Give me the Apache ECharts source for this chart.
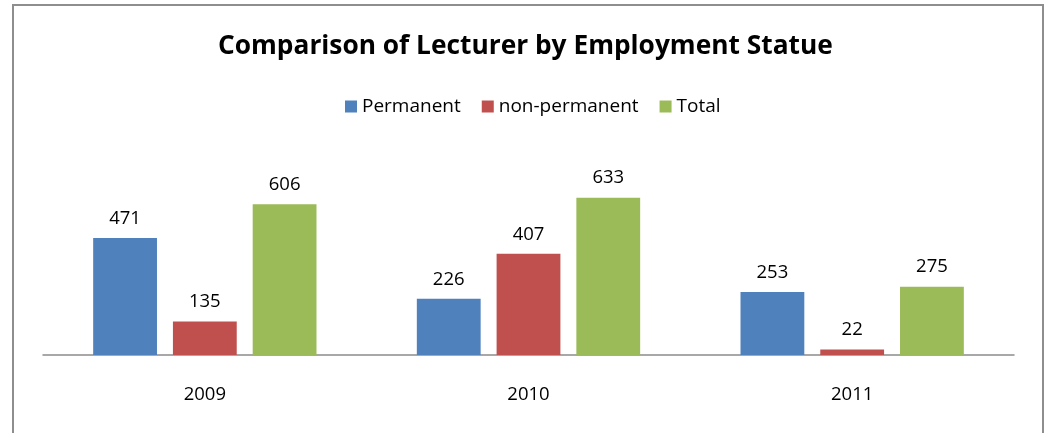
<!DOCTYPE html>
<html>
<head>
<meta charset="utf-8">
<script src="https://cdn.jsdelivr.net/npm/echarts@6/dist/echarts.min.js"></script>
<style>
html,body{margin:0;padding:0;background:#fff;overflow:hidden;}
#frame{position:absolute;left:12px;top:4px;width:1032px;height:460px;border:2px solid #8e8e8e;box-sizing:border-box;}
#chart{position:absolute;left:0;top:0;width:1047px;height:433px;}
</style>
</head>
<body>
<div id="frame"></div>
<div id="chart"></div>
<script>
const categories = ['2009', '2010', '2011'];
const permanent = [471, 226, 253];
const nonPermanent = [135, 407, 22];
const total = [606, 633, 275];
const seriesNames = ['Permanent', 'non-permanent', 'Total'];
const colors = ['#4F81BD', '#C0504D', '#9BBB59'];

const font = 'Open Sans, Liberation Sans, sans-serif';
const chart = echarts.init(document.getElementById('chart'));
const mk = (name, data, color) => ({
  name: name, type: 'bar', data: data,
  barGap: '25%', barCategoryGap: '31%',
  itemStyle: {color: color},
  label: {show: true, position: 'top', distance: 10, color: '#000', fontSize: 18.5, fontFamily: font},
  emphasis: {disabled: true}
});
chart.setOption({
  animation: false,
  title: {
    text: 'Comparison of Lecturer by Employment Statue',
    left: 213, top: 29,
    textStyle: {fontSize: 26.3, fontWeight: 'bold', color: '#000', fontFamily: font}
  },
  legend: {
    top: 92, left: 340,
    itemWidth: 12, itemHeight: 12, itemGap: 21,
    icon: 'rect',
    textStyle: {fontSize: 19, color: '#000', fontFamily: font},
    data: seriesNames
  },
  grid: {left: 43, right: 33, top: 181, bottom: 78, containLabel: false},
  xAxis: {
    type: 'category', data: categories,
    axisLine: {lineStyle: {color: '#8c8c8c', width: 1.5}},
    axisTick: {show: false},
    axisLabel: {margin: 30, fontSize: 18.5, color: '#000', fontFamily: font}
  },
  yAxis: {
    type: 'value', min: 0, max: 700, interval: 100,
    show: false, splitLine: {show: false}
  },
  series: [
    mk(seriesNames[0], permanent, colors[0]),
    mk(seriesNames[1], nonPermanent, colors[1]),
    mk(seriesNames[2], total, colors[2])
  ]
});
</script>
</body>
</html>
